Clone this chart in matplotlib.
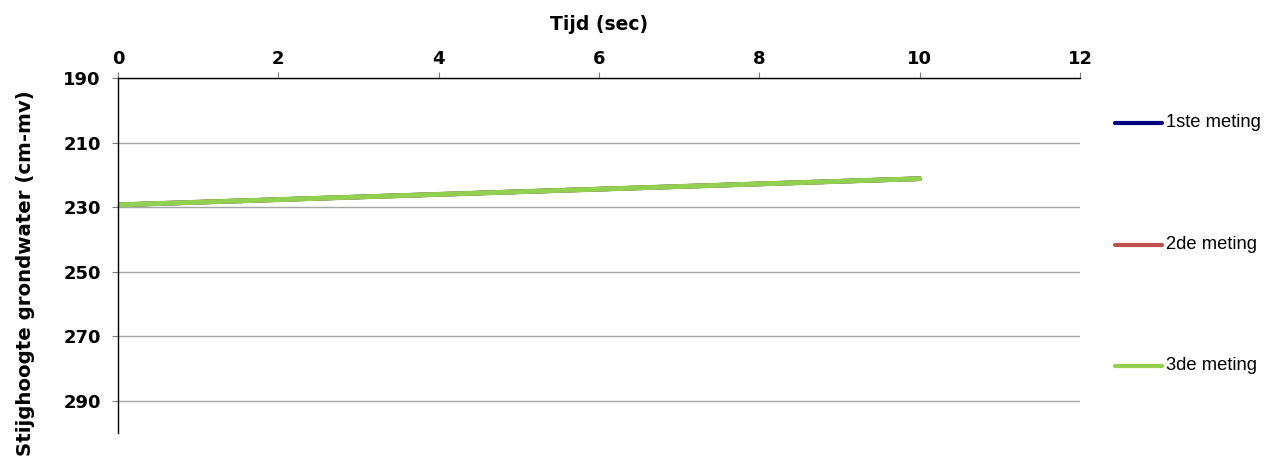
import matplotlib
matplotlib.use("Agg")
import matplotlib.pyplot as plt
from matplotlib.lines import Line2D

# Measurements: time (s) vs. hydraulic head (cm below ground level)
tijd = [0, 10]
meting_1 = [229.3, 221.2]
meting_2 = [229.3, 221.2]
meting_3 = [229.3, 221.2]
series_labels = ["1ste meting", "2de meting", "3de meting"]
series_colors = ["#000080", "#c0504d", "#92d050"]
series_widths = [3.3, 3.3, 3.6]

x_ticks = [0, 2, 4, 6, 8, 10, 12]
y_ticks = [190, 210, 230, 250, 270, 290]

W, H = 1264, 459
fig = plt.figure(figsize=(W / 100, H / 100), dpi=100)
left, right, top, bottom = 118, 1080, 78, 433
ax = fig.add_axes([left / W, 1 - bottom / H, (right - left) / W, (bottom - top) / H])

for vals, lab, col, lw in zip([meting_1, meting_2, meting_3], series_labels,
                              series_colors, series_widths):
    ax.plot(tijd, vals, color=col, lw=lw, solid_capstyle="round", label=lab)

ax.set_xlim(0, 12)
ax.set_ylim(300, 190)
ax.xaxis.tick_top()
ax.xaxis.set_label_position("top")
ax.set_xticks(x_ticks)
ax.set_yticks(y_ticks)
ax.tick_params(axis="both", direction="out", length=4, width=0.8, color="#808080",
               labelsize=13)
ax.tick_params(axis="x", pad=3.5)
ax.tick_params(axis="y", pad=8.5)
for lbl in ax.get_xticklabels() + ax.get_yticklabels():
    lbl.set_fontweight("bold")

ax.grid(axis="y", color="#a6a6a6", lw=1)
ax.set_axisbelow(True)
for s in ["right", "bottom"]:
    ax.spines[s].set_visible(False)
for s in ["left", "top"]:
    ax.spines[s].set_color("black")
    ax.spines[s].set_linewidth(1.0)

ax.set_xlabel("Tijd (sec)", fontsize=13.5, fontweight="bold", labelpad=14)
fig.text(26 / W, 1 - 273 / H, "Stijghoogte grondwater (cm-mv)", rotation=90,
         ha="center", va="center", fontsize=14.2, fontweight="bold")

# Legend entries placed beside the plot area
legend_y = [123, 245, 366]
for yy, lab, col in zip(legend_y, series_labels, series_colors):
    fy = 1 - yy / H
    fig.add_artist(Line2D([1115 / W, 1162 / W], [fy, fy], color=col, lw=3.0,
                          solid_capstyle="round", transform=fig.transFigure))
    fig.text(1166 / W, fy, lab, ha="left", va="center", fontsize=13.2,
             family="Liberation Sans")

fig.savefig("out.png", dpi=100)
